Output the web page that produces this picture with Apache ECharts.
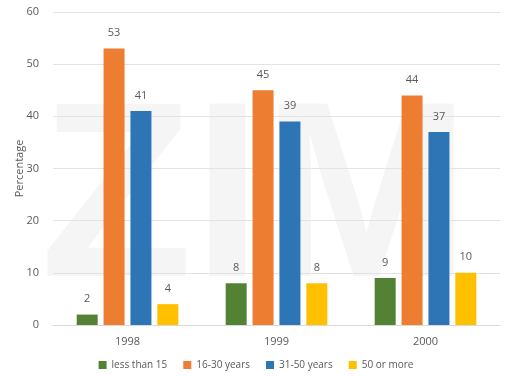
<!DOCTYPE html>
<html>
<head>
<meta charset="utf-8">
<script src="https://cdn.jsdelivr.net/npm/echarts@6/dist/echarts.min.js"></script>
<style>
  html, body { margin: 0; padding: 0; background: #fff; }
  #chart { width: 512px; height: 376px; }
</style>
</head>
<body>
<div id="chart"></div>
<script>
const years = ["1998", "1999", "2000"];
const lessThan15 = [2, 8, 9];
const age16to30 = [53, 45, 44];
const age31to50 = [41, 39, 37];
const age50plus = [4, 8, 10];
const seriesNames = ["less than 15", "16-30 years", "31-50 years", "50 or more"];
const seriesColors = ["#548235", "#ED7D31", "#2E75B6", "#FFC000"];

const chart = echarts.init(document.getElementById("chart"));

function makeBar(name, data, color) {
  return {
    name: name,
    type: "bar",
    data: data,
    barWidth: 21,
    barGap: "28%",
    itemStyle: { color: color },
    label: {
      show: true,
      position: "top",
      distance: 10,
      color: "#595959",
      fontSize: 11,
      fontFamily: "Open Sans",
    },
  };
}

chart.setOption({
  animation: false,
  backgroundColor: "#fff",
  // faint watermark behind the plot
  graphic: [
    {
      type: "text",
      left: 40,
      top: 82,
      z: -10,
      style: {
        text: "ZIM",
        fontSize: 250,
        fontWeight: "bold",
        fontFamily: "Liberation Sans",
        fill: "rgba(0,0,0,0.04)",
      },
    },
  ],
  grid: { left: 53, right: 12, top: 12, bottom: 51 },
  legend: {
    bottom: 1,
    left: "center",
    itemWidth: 8,
    itemHeight: 8,
    itemGap: 16,
    icon: "rect",
    textStyle: { color: "#595959", fontSize: 10, fontFamily: "Open Sans" },
    data: seriesNames,
  },
  xAxis: {
    type: "category",
    data: years,
    axisTick: { show: false },
    axisLine: { lineStyle: { color: "#d9d9d9" } },
    axisLabel: { color: "#595959", fontSize: 11, margin: 11, fontFamily: "Open Sans" },
  },
  yAxis: {
    type: "value",
    min: 0,
    max: 60,
    interval: 10,
    name: "Percentage",
    nameLocation: "middle",
    nameGap: 28,
    nameMoveOverlap: false,
    nameTextStyle: { color: "#595959", fontSize: 11, fontFamily: "Open Sans" },
    axisLine: { show: false },
    axisTick: { show: false },
    splitLine: { lineStyle: { color: "#e3e3e3" } },
    axisLabel: { color: "#595959", fontSize: 11, margin: 14, fontFamily: "Open Sans" },
  },
  series: [
    makeBar(seriesNames[0], lessThan15, seriesColors[0]),
    makeBar(seriesNames[1], age16to30, seriesColors[1]),
    makeBar(seriesNames[2], age31to50, seriesColors[2]),
    makeBar(seriesNames[3], age50plus, seriesColors[3]),
  ],
});
</script>
</body>
</html>
